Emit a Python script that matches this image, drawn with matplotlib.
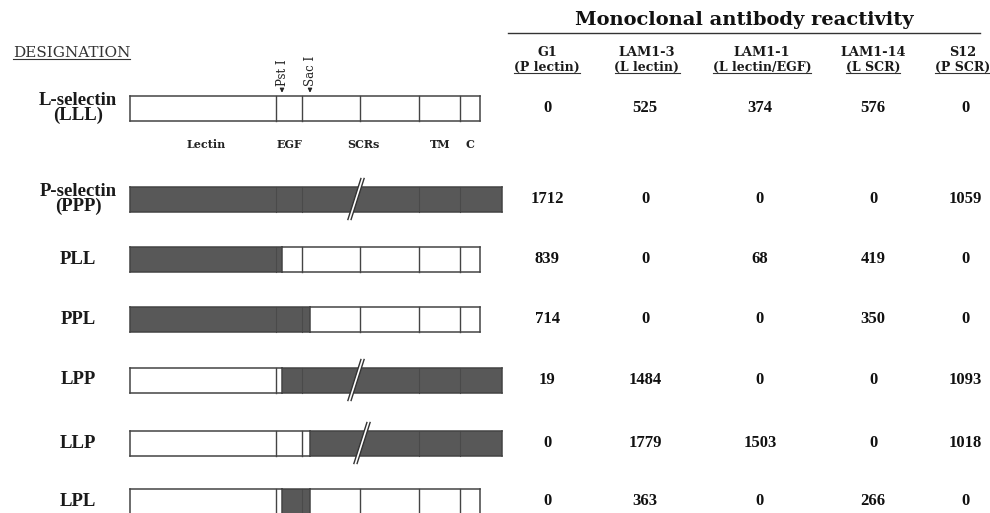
import matplotlib
matplotlib.use("Agg")
import matplotlib.pyplot as plt
from matplotlib.patches import Rectangle, Polygon

# ---- data -------------------------------------------------------------
constructs = ["LLL", "PPP", "PLL", "PPL", "LPP", "LLP", "LPL"]
row_labels = ["L-selectin\n(LLL)", "P-selectin\n(PPP)", "PLL", "PPL", "LPP", "LLP", "LPL"]

antibodies = ["G1", "LAM1-3", "LAM1-1", "LAM1-14", "S12"]
epitopes = ["(P lectin)", "(L lectin)", "(L lectin/EGF)", "(L SCR)", "(P SCR)"]

g1 = [0, 1712, 839, 714, 19, 0, 0]
lam1_3 = [525, 0, 0, 0, 1484, 1779, 363]
lam1_1 = [374, 0, 68, 0, 0, 1503, 0]
lam1_14 = [576, 0, 419, 350, 0, 0, 266]
s12 = [0, 1059, 0, 0, 1093, 1018, 0]
reactivity = [g1, lam1_3, lam1_1, lam1_14, s12]

domain_names = ["Lectin", "EGF", "SCRs", "TM", "C"]
# domain borders along each selectin (drawing units)
l_edges = [0, 146, 172, 230, 289, 330, 350]
p_edges = [0, 146, 172, 289, 330, 372]
# restriction sites used for the chimeric junctions
pst1, sac1 = 152, 180
# position of the break mark on P-selectin C-terminal stretches
p_break = 226

# ---- layout -----------------------------------------------------------
W, H = 990, 513
fig = plt.figure(figsize=(W / 100, H / 100), dpi=100)
ax = fig.add_axes([0, 0, 1, 1])
ax.set_xlim(0, W)
ax.set_ylim(H, 0)
ax.axis("off")

SERIF_N = ["Liberation Serif", "DejaVu Serif"]   # narrow serif
SERIF_W = ["DejaVu Serif"]                       # wide serif
DARK = "#585858"
EDGE = "#444444"

x0 = 130
bar_h = 25
row_y = [108, 199, 259, 319, 380, 443, 501]
col_x = [547, 645, 760, 873, 965]
head_x = [547, 647, 762, 873, 963]


def segments(code):
    """Return (start, end, origin) pieces of a construct; origin 'L' or 'P'."""
    cuts = [0, pst1, sac1, None]
    parts = []
    for i, ch in enumerate(code):
        start = cuts[i]
        end = cuts[i + 1]
        if end is None:
            end = l_edges[-1] if ch == "L" else p_edges[-1]
        parts.append((start, end, ch))
    # merge neighbours of the same origin
    merged = []
    for s, e, ch in parts:
        if merged and merged[-1][2] == ch:
            merged[-1] = (merged[-1][0], e, ch)
        else:
            merged.append((s, e, ch))
    return merged


def draw_construct(code, yc):
    top = yc - bar_h / 2
    parts = segments(code)
    for s, e, ch in parts:
        fc = "white" if ch == "L" else DARK
        ax.add_patch(Rectangle((x0 + s, top), e - s, bar_h, facecolor=fc,
                               edgecolor="none", zorder=2))
        edges = l_edges if ch == "L" else p_edges
        for b in edges[1:-1]:
            if s < b < e:
                col = EDGE if ch == "L" else "#4a4a4a"
                lw = 1.0 if ch == "L" else 0.8
                ax.plot([x0 + b, x0 + b], [top, top + bar_h], color=col,
                        lw=lw, zorder=3)
        ax.plot([x0 + s, x0 + e], [top, top], color=EDGE, lw=1.1, zorder=4)
        ax.plot([x0 + s, x0 + e], [top + bar_h, top + bar_h], color=EDGE,
                lw=1.1, zorder=4)
    for s, e, ch in parts:
        ax.plot([x0 + s, x0 + s], [top, top + bar_h], color=EDGE, lw=1.1,
                zorder=4)
    last = parts[-1][1]
    ax.plot([x0 + last, x0 + last], [top, top + bar_h], color=EDGE, lw=1.1,
            zorder=4)
    # break mark on long P-selectin tails
    if parts[-1][2] == "P":
        bx = x0 + p_break + (6 if code[1] == "L" else 0)
        dy = bar_h / 2 + 8
        sl = 6.5
        gap = 3.2
        poly = Polygon([(bx - sl - gap / 2, yc + dy), (bx + sl - gap / 2, yc - dy),
                        (bx + sl + gap / 2, yc - dy), (bx - sl + gap / 2, yc + dy)],
                       closed=True, facecolor="white", edgecolor="none",
                       zorder=5)
        ax.add_patch(poly)
        for off in (-gap / 2, gap / 2):
            ax.plot([bx - sl + off, bx + sl + off], [yc + dy, yc - dy],
                    color="#333333", lw=1.0, zorder=6)


for code, yc in zip(constructs, row_y):
    draw_construct(code, yc)

# row labels
for lab, yc in zip(row_labels, row_y):
    ax.text(78, yc, lab, ha="center", va="center", family=SERIF_N,
            fontweight="bold", fontsize=13.5, linespacing=0.85,
            color="#1a1a1a")

# domain names under L-selectin
dom_x = [206, 289, 363, 440, 470]
for name, dx in zip(domain_names, dom_x):
    ax.text(dx, 145, name, ha="center", va="center", family=SERIF_W,
            fontweight="bold", fontsize=8, color="#222222")

# restriction sites
for name, pos in (("Pst I", pst1), ("Sac I", sac1)):
    xx = x0 + pos
    ax.annotate("", xy=(xx, row_y[0] - bar_h / 2), xytext=(xx, 86),
                arrowprops=dict(arrowstyle="-|>", color="#222222", lw=0.8,
                                mutation_scale=6), zorder=6)
    ax.text(xx, 86, name, rotation=90, ha="center", va="bottom",
            family=SERIF_W, fontsize=8.5, color="#222222")

# headings
t = ax.text(13, 53, "DESIGNATION", ha="left", va="center", family=SERIF_W,
            fontsize=11, color="#333333")
ax.text(744, 20, "Monoclonal antibody reactivity", ha="center",
        va="center", family=SERIF_W, fontweight="bold", fontsize=14,
        color="#111111")
ax.plot([508, 980], [33, 33], color="#333333", lw=1.0)

sub_texts = []
for x, ab, ep in zip(head_x, antibodies, epitopes):
    ax.text(x, 52, ab, ha="center", va="center", family=SERIF_W,
            fontweight="bold", fontsize=9.3, color="#1a1a1a")
    st = ax.text(x, 67, ep, ha="center", va="center", family=SERIF_W,
                 fontweight="bold", fontsize=9, color="#1a1a1a")
    sub_texts.append(st)

# reactivity values
for x, col in zip(col_x, reactivity):
    for yc, v in zip(row_y, col):
        ax.text(x, yc, f"{v}", ha="center", va="center", family=SERIF_N,
                fontweight="bold", fontsize=12, color="#111111")

# underlines beneath headings
fig.canvas.draw()
inv = ax.transData.inverted()
for txt in [t] + sub_texts:
    bb = txt.get_window_extent()
    (xa, ya), (xb, yb) = inv.transform([(bb.x0, bb.y0), (bb.x1, bb.y1)])
    yline = max(ya, yb) - 1
    ax.plot([xa, xb], [yline, yline], color="#333333", lw=0.8)

fig.savefig("out.png", dpi=100)
